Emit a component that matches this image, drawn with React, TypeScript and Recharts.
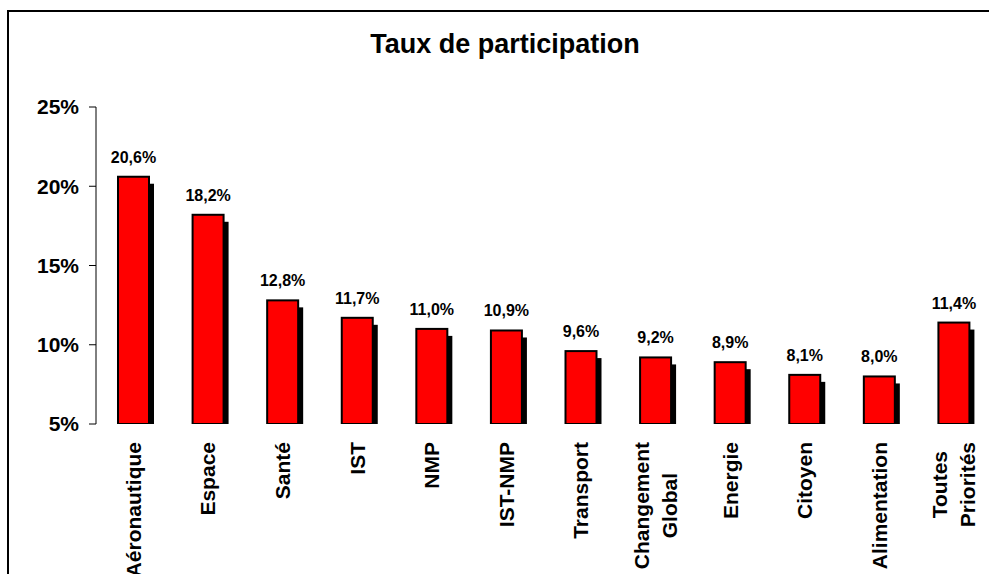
import React from 'react';
import { BarChart, Bar, XAxis, YAxis, LabelList } from 'recharts';

const categories = [
  'Aéronautique',
  'Espace',
  'Santé',
  'IST',
  'NMP',
  'IST-NMP',
  'Transport',
  'Changement\nGlobal',
  'Energie',
  'Citoyen',
  'Alimentation',
  'Toutes\nPriorités',
];
const rates = [20.6, 18.2, 12.8, 11.7, 11.0, 10.9, 9.6, 9.2, 8.9, 8.1, 8.0, 11.4];
const yTicks = [5, 10, 15, 20, 25];
const boundaryTicks = [0, 1, 2, 3, 4, 5, 6, 7, 8, 9, 10, 11, 12];

const data = categories.map((name, i) => ({ name, rate: rates[i] }));

const FONT = 'Arial, "Liberation Sans", sans-serif';
const fmt = (v: number) => `${v.toFixed(1).replace('.', ',')}%`;

// measure text so multi-line rotated labels can be centred like in Excel
let ctx: CanvasRenderingContext2D | null = null;
const textWidth = (s: string) => {
  if (!ctx) ctx = document.createElement('canvas').getContext('2d');
  if (!ctx) return s.length * 12;
  ctx.font = 'bold 21px "Liberation Sans", Arial, sans-serif';
  return ctx.measureText(s).width;
};

const CategoryTick = (props: any) => {
  const { x, y, payload } = props;
  const lines: string[] = String(payload.value).split('\n');
  const widths = lines.map(textWidth);
  const maxW = Math.max(...widths);
  const top = y + 10;
  const lineGap = 28;
  return (
    <g>
      {lines.map((line, i) => {
        const lx = x + (i - (lines.length - 1) / 2) * lineGap;
        const ly = top + (maxW - widths[i]) / 2;
        return (
          <text
            key={i}
            x={lx}
            y={ly}
            dy="0.36em"
            textAnchor="end"
            transform={`rotate(-90, ${lx}, ${ly})`}
            fontFamily={FONT}
            fontWeight="bold"
            fontSize={21}
            fill="#000"
          >
            {line}
          </text>
        );
      })}
    </g>
  );
};

const ShadowBar = (props: any) => {
  const { x, y, width, height } = props;
  if (height == null || height <= 0) return null;
  const dx = 5;
  const dy = 7;
  return (
    <g>
      <rect x={x + dx} y={y + dy} width={width} height={Math.max(0, height - dy)} fill="#000" />
      <rect x={x} y={y} width={width} height={height} fill="#FF0000" stroke="#000" strokeWidth={2} />
    </g>
  );
};

export default function App() {
  return (
    <div style={{ position: 'absolute', left: 0, top: 0, width: 989, height: 574, overflow: 'hidden', background: '#fff' }}>
      <div
        style={{
          position: 'absolute',
          left: 7,
          top: 10,
          width: 1100,
          height: 700,
          border: '2px solid #000',
        }}
      />
      <div
        style={{
          position: 'absolute',
          left: 0,
          top: 29,
          width: 1010,
          textAlign: 'center',
          fontFamily: FONT,
          fontWeight: 'bold',
          fontSize: 27,
          lineHeight: '31px',
          color: '#000',
        }}
      >
        Taux de participation
      </div>
      <div style={{ position: 'absolute', left: 0, top: 0 }}>
        <BarChart
          width={1000}
          height={574}
          data={data}
          margin={{ top: 107, right: 9, bottom: 0, left: 6 }}
        >
          <XAxis
            xAxisId="grid"
            type="number"
            dataKey="rate"
            domain={[0, 12]}
            ticks={boundaryTicks}
            allowDataOverflow
            height={0}
            axisLine={{ stroke: '#000', strokeWidth: 1 }}
            tickLine={{ stroke: '#000', strokeWidth: 1 }}
            tickSize={7}
            tick={() => <g />}
          />
          <XAxis
            xAxisId="cat"
            dataKey="name"
            height={150}
            axisLine={false}
            tickLine={false}
            interval={0}
            tick={<CategoryTick />}
          />
          <YAxis
            domain={[5, 25]}
            ticks={yTicks}
            allowDataOverflow
            width={90}
            axisLine={{ stroke: '#000', strokeWidth: 1 }}
            tickLine={{ stroke: '#000', strokeWidth: 1 }}
            tickSize={7}
            tickMargin={10}
            tickFormatter={(v: number) => `${v}%`}
            tick={{ fill: '#000', fontFamily: FONT, fontWeight: 'bold', fontSize: 21 }}
          />
          <Bar
            xAxisId="cat"
            dataKey="rate"
            barSize={31}
            shape={<ShadowBar />}
            isAnimationActive={false}
          >
            <LabelList
              dataKey="rate"
              position="top"
              offset={14}
              formatter={(v: any) => fmt(Number(v))}
              style={{ fill: '#000', fontFamily: FONT, fontWeight: 'bold', fontSize: 16 }}
            />
          </Bar>
        </BarChart>
      </div>
    </div>
  );
}
